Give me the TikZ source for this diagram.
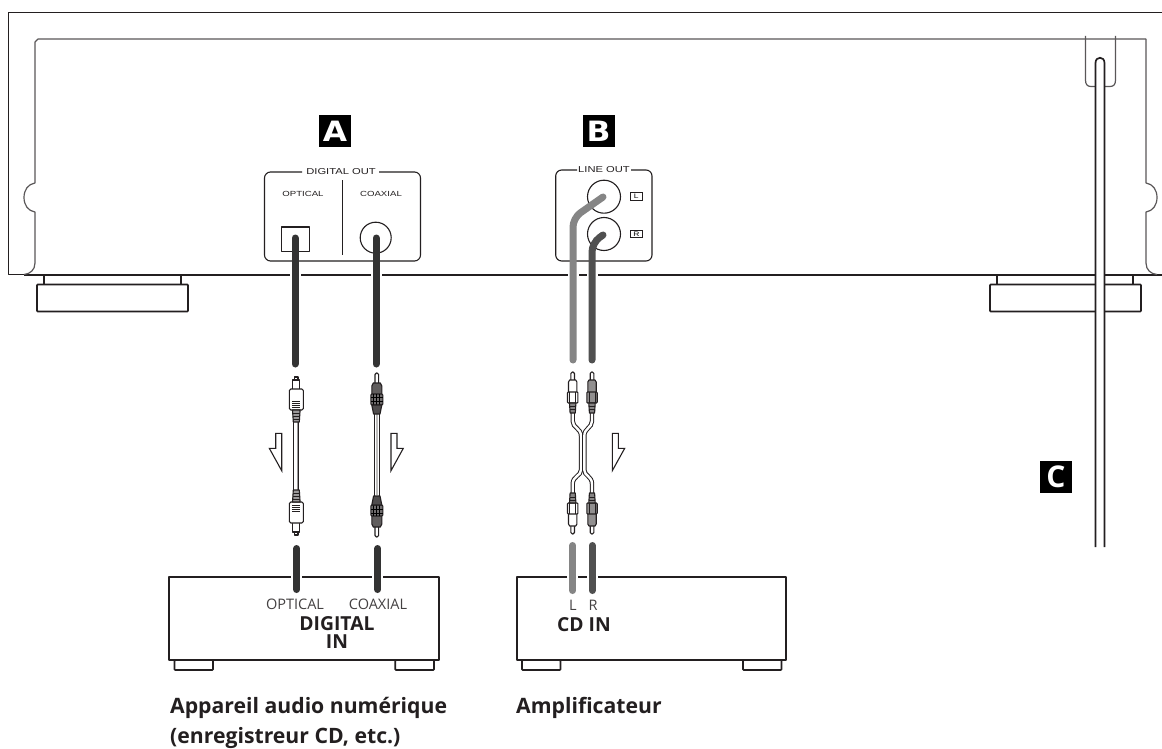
\documentclass[tikz,border=0pt]{standalone}
\usepackage{fontspec}
\setmainfont{Open Sans}
\newfontfamily\panelfont[FakeStretch=1.3]{Liberation Sans}
\newfontfamily\badgefont[FakeStretch=1.12]{DejaVu Sans}
\definecolor{ink}{HTML}{231F20}
\definecolor{cabdark}{HTML}{333333}
\definecolor{cabgray}{HTML}{858585}
\definecolor{cabmid}{HTML}{505050}
\tikzset{
  hull/.style={draw=ink,line width=1.9pt,line join=round},
  thin hull/.style={draw=ink!75,line width=1.2pt,line join=round},
  fine/.style={draw=ink,line width=1.1pt,line join=round},
  wire/.style={draw=ink,line width=.9pt,fill=white},
  footbox/.style={draw=ink,line width=1.7pt,fill=white,rounded corners=.8pt},
  cabA/.style={draw=cabdark,line width=7pt,line cap=round},
  cabL/.style={draw=cabgray,line width=7pt,line cap=round},
  cabR/.style={draw=cabmid,line width=7pt,line cap=round},
  panellabel/.style={font=\panelfont\fontsize{7.4}{8}\selectfont,text=ink,inner sep=1pt},
  panelhead/.style={font=\panelfont\fontsize{8.6}{9}\selectfont,text=ink,inner sep=1pt},
  badge/.style={fill=black,text=white,font=\badgefont\bfseries\fontsize{28}{28}\selectfont,minimum size=32pt,inner sep=0pt},
  devlabel/.style={font=\fontsize{14.5}{15}\selectfont,text=ink!85,inner sep=0pt},
  devbold/.style={font=\bfseries\fontsize{19.3}{20}\selectfont,text=ink,inner sep=0pt,align=center},
  caption/.style={font=\bfseries\fontsize{21.2}{30}\selectfont,text=ink,anchor=base west,inner sep=0pt},
  downarrow/.style={draw=ink,line width=1.1pt,fill=white,line join=miter},
  tagbox/.style={draw=ink,line width=.8pt,minimum width=12.5pt,minimum height=7.5pt,inner sep=0pt,font=\panelfont\fontsize{6.5}{6}\selectfont},
  pics/optplug/.style={code={
    \draw[fine,fill=white] (-1.7,0) rectangle (1.7,4);
    \draw[fine,fill=white] (-3.5,3) rectangle (3.5,13);
    \draw[fine,fill=white,rounded corners=1.5pt] (-7,12) rectangle (7,33);
    \foreach \yy in {24,26,28,30} \draw[ink,line width=.7pt] (-4,\yy) -- (4,\yy);
    \draw[fine,fill=ink!45] (-3.8,33) -- (-3,45) -- (3,45) -- (3.8,33) -- cycle;
    \foreach \yy in {36,39,42} \draw[ink,line width=.7pt] (-3.6,\yy) -- (3.6,\yy);
  }},
  pics/coaxplug/.style={code={
    \draw[fine,fill=white,rounded corners=1.5pt] (-1.8,10) -- (-1.8,0) -- (1.8,0) -- (1.8,10);
    \draw[fine,fill=ink!72] (-3.5,10) -- (-5,13) -- (-5,22) -- (5,22) -- (5,13) -- (3.5,10) -- cycle;
    \draw[fine,fill=ink!65,rounded corners=1pt] (-6,21) rectangle (6,32);
    \foreach \xx in {-3,0,3} \draw[black,line width=.7pt] (\xx,21) -- (\xx,32);
    \foreach \yy in {24,28} \draw[black,line width=.7pt] (-6,\yy) -- (6,\yy);
    \draw[fine,fill=ink!80] (-5,32) -- (-3.2,41) -- (3.2,41) -- (5,32) -- cycle;
  }},
  pics/rcaplug/.style={code={
    \draw[fine,fill=white,rounded corners=1.5pt] (-1.8,9) -- (-1.8,0) -- (1.8,0) -- (1.8,9);
    \draw[fine,fill=#1] (-3,8) -- (-4.2,10) -- (-4.2,21) -- (4.2,21) -- (4.2,10) -- (3,8) -- cycle;
    \draw[fine,fill=#1,rounded corners=.8pt] (-5.2,20) rectangle (5.2,31);
    \draw[ink,line width=.7pt] (-3,20) -- (-3,31) (3,20) -- (3,31);
    \draw[fine,fill=ink!55] (-3.2,31) -- (-2.6,41) -- (2.6,41) -- (3.2,31) -- cycle;
    \foreach \yy in {34,37} \draw[ink,line width=.7pt] (-3,\yy) -- (3,\yy);
  }},
}
\begin{document}
\begin{tikzpicture}[x=1pt,y=-1pt]
\useasboundingbox[fill=white] (0,0) rectangle (1162,749);
% chassis
\draw[hull] (1162,12.5) -- (8.5,12.5) -- (8.5,274.5) -- (24,274.5);
\draw[hull] (24,275) -- (1162,275);
\draw[thin hull] (1146,39) -- (38,39) -- (35,42) -- (35,183)
  .. controls (28,184) and (24,190) .. (24,197.5)
  .. controls (24,205) and (28,211) .. (35,212)
  -- (35,263) .. controls (35,270) and (30,274) .. (24,274.5);
\draw[thin hull] (1085.5,36) -- (1085.5,80) .. controls (1085.5,84) and (1087,86.5) .. (1091,86.5) -- (1110,86.5)
  .. controls (1114,86.5) and (1115.5,84) .. (1115.5,80) -- (1115.5,36);
\draw[thin hull] (1146,39) -- (1146,183)
  .. controls (1153,184) and (1157,190) .. (1157,197.5)
  .. controls (1157,205) and (1153,211) .. (1146,212)
  -- (1146,263) .. controls (1146,270) and (1151,274) .. (1157,274.5);
% feet
\draw[hull] (44,275) -- (44,284) (181,275) -- (181,284);
\draw[hull] (997,275) -- (997,284) (1133,275) -- (1133,284);
\path[footbox] (37,284.5) rectangle (188,311.5);
\path[footbox] (990,284.5) rectangle (1141,311.5);
% power cord
\draw[draw=ink,line width=1.7pt,fill=white] (1095.5,547) -- (1095.5,63) .. controls (1095.5,56) and (1104.5,56) .. (1104.5,63) -- (1104.5,547);
% badges
\node[badge] (badgeA) at (335,131.5) {A};
\node[badge] (badgeB) at (598.5,131.5) {B};
\node[badge,font=\bfseries\fontsize{30}{30}\selectfont] (badgeC) at (1056,476.7) {C};
% digital out panel
\draw[fine,rounded corners=6pt] (302,172) -- (264.5,172) -- (264.5,261) -- (420.5,261) -- (420.5,172) -- (379,172);
\draw[fine] (342.5,180) -- (342.5,255);
\node[panelhead] (digout) at (341,172) {DIGITAL OUT};
\node[panellabel] (optlab) at (303,194) {OPTICAL};
\node[panellabel] (coaxlab) at (381,194) {COAXIAL};
\draw[fine] (281.5,227) rectangle (309.5,251.5);
\draw[fine] (375.7,237.7) circle (15.5);
% line out panel
\draw[fine,rounded corners=6pt] (577,170) -- (555.7,170) -- (555.7,261) -- (652,261) -- (652,170) -- (631,170);
\node[panelhead] (lineout) at (604,170) {LINE OUT};
\draw[fine] (604,196.7) circle (16.5);
\draw[fine] (604,234) circle (16.5);
\node[tagbox] (tagL) at (636.3,196.3) {L};
\node[tagbox] (tagR) at (636.3,234) {R};
% cables from the rear panel
\foreach \xx in {295,376} {
  \draw[white,line width=11pt] (\xx,271) -- (\xx,279);
}
\draw[white,line width=11pt] (573,271) -- (573,279) (592,271) -- (592,279);
\draw[cabA] (295,238) -- (295,364);
\draw[cabA] (376,238) -- (376,364);
\draw[cabL,rounded corners=9pt] (603,197) -- (573,218) -- (573,360);
\draw[cabR,rounded corners=9pt] (603,235) -- (592,243) -- (592,360);
% plugs
\draw[wire] (293.8,420) rectangle (298.8,494);
\draw[ink!45,line width=1pt] (297.6,422) -- (297.6,492);
\pic at (296.3,377) {optplug};
\pic[yscale=-1,transform shape] at (296.3,535) {optplug};
\draw[wire] (374.4,412) rectangle (379.2,497);
\draw[ink!30,line width=2.4pt] (376.8,414) -- (376.8,495);
\pic at (376.8,373) {coaxplug};
\pic[yscale=-1,transform shape] at (376.8,537) {coaxplug};
% y-cable
\foreach \aa/\bb in {572.7/581,592/584.3} {
  \draw[ink,line width=4.4pt] (\aa,412) -- (\aa,421) .. controls (\aa,428) and (\bb,428) .. (\bb,436) -- (\bb,470) .. controls (\bb,476) and (\aa,476) .. (\aa,484) -- (\aa,494);
  \draw[white,line width=2.4pt] (\aa,412) -- (\aa,421) .. controls (\aa,428) and (\bb,428) .. (\bb,436) -- (\bb,470) .. controls (\bb,476) and (\aa,476) .. (\aa,484) -- (\aa,494);
}
\pic at (572.7,372) {rcaplug=white};
\pic at (592,372) {rcaplug=ink!50};
\pic[yscale=-1,transform shape] at (572.7,534) {rcaplug=white};
\pic[yscale=-1,transform shape] at (592,534) {rcaplug=ink!50};
% arrows
\draw[downarrow] (275.7,433.3) -- (281.7,433.3) -- (281.7,470.7) -- (269.3,448.3) -- (275.7,448.3) -- cycle;
\draw[downarrow] (391,433.3) -- (397,433.3) -- (397,448.3) -- (403.3,448.3) -- (391,470.7) -- cycle;
\draw[downarrow] (612.3,433.3) -- (618.3,433.3) -- (618.3,448.3) -- (624.7,448.3) -- (612.3,470.7) -- cycle;
% devices
\path[footbox] (174.5,660) rectangle (213,670);
\path[footbox] (395.3,660) rectangle (434,670);
\path[footbox] (522,660) rectangle (560.5,670);
\path[footbox] (743,660) rectangle (781.5,670);
\draw[hull] (169.3,576.7) rectangle (438.7,660);
\draw[hull] (517,576.7) rectangle (786,660);
\draw[white,line width=11pt] (296.7,574) -- (296.7,580) (377.7,574) -- (377.7,580) (572.7,574) -- (572.7,580) (592.3,574) -- (592.3,580);
\draw[cabA] (296.7,548.5) -- (296.7,589.5);
\draw[cabA] (377.7,548.5) -- (377.7,589.5);
\draw[cabL] (572.7,545.5) -- (572.7,590.5);
\draw[cabR] (592.3,545.5) -- (592.3,590.5);
\node[devlabel] (inopt) at (295,604.5) {OPTICAL};
\node[devlabel] (incoax) at (378,604.5) {COAXIAL};
\node[devbold] (digin) at (337,624) {DIGITAL};
\node[devbold] (digin2) at (337,642) {IN};
\node[devlabel] (inL) at (573,605) {L};
\node[devlabel] (inR) at (593,605) {R};
\node[devbold] (cdin) at (584,625) {CD IN};
\node[caption] (capA) at (170,713) {Appareil audio numérique};
\node[caption] (capB) at (170,743) {(enregistreur CD, etc.)};
\node[caption] (capC) at (516,713) {Amplificateur};
\end{tikzpicture}
\end{document}
